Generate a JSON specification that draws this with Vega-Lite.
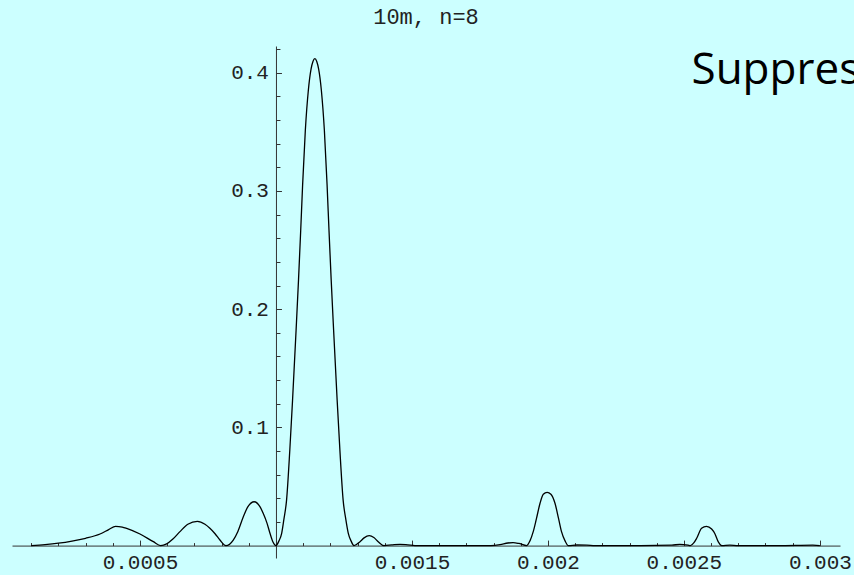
{
  "$schema": "https://vega.github.io/schema/vega-lite/v6.json",
  "width": 828,
  "height": 512,
  "autosize": "none",
  "padding": {"left": 12, "top": 46, "right": 14, "bottom": 17},
  "background": "#CCFFFF",
  "config": {"view": {"stroke": null}},
  "title": {"text": "10m, n=8", "font": "Liberation Mono", "fontSize": 22, "fontWeight": "normal", "color": "#222", "anchor": "middle", "frame": "group", "baseline": "alphabetic", "offset": 19, "dy": 27},
  "datasets": {
    "curve": [
      {"x": 0.0001, "y": 0},
      {"x": 0.000151, "y": 0.0008},
      {"x": 0.0002, "y": 0.002},
      {"x": 0.00025, "y": 0.0038},
      {"x": 0.0003, "y": 0.0062},
      {"x": 0.000353, "y": 0.0098},
      {"x": 0.000385, "y": 0.0135},
      {"x": 0.00041, "y": 0.0163},
      {"x": 0.000435, "y": 0.0157},
      {"x": 0.000451, "y": 0.0146},
      {"x": 0.0005, "y": 0.0098},
      {"x": 0.000549, "y": 0.0033},
      {"x": 0.000576, "y": 0},
      {"x": 0.000598, "y": 0.0014},
      {"x": 0.000621, "y": 0.0055},
      {"x": 0.000647, "y": 0.0118},
      {"x": 0.000676, "y": 0.018},
      {"x": 0.000711, "y": 0.0205},
      {"x": 0.000739, "y": 0.018},
      {"x": 0.000757, "y": 0.0146},
      {"x": 0.000776, "y": 0.01},
      {"x": 0.000794, "y": 0.0047},
      {"x": 0.000816, "y": 0},
      {"x": 0.000843, "y": 0.0047},
      {"x": 0.00086, "y": 0.012},
      {"x": 0.00088, "y": 0.0244},
      {"x": 0.000897, "y": 0.033},
      {"x": 0.00092, "y": 0.0371},
      {"x": 0.000941, "y": 0.033},
      {"x": 0.000953, "y": 0.0273},
      {"x": 0.000967, "y": 0.019},
      {"x": 0.000978, "y": 0.0104},
      {"x": 0.000989, "y": 0.003},
      {"x": 0.001, "y": 0},
      {"x": 0.001011, "y": 0.004},
      {"x": 0.001021, "y": 0.0104},
      {"x": 0.001029, "y": 0.022},
      {"x": 0.001039, "y": 0.0385},
      {"x": 0.001051, "y": 0.081},
      {"x": 0.001061, "y": 0.123},
      {"x": 0.001074, "y": 0.1822},
      {"x": 0.001083, "y": 0.225},
      {"x": 0.001091, "y": 0.2667},
      {"x": 0.001098, "y": 0.305},
      {"x": 0.001108, "y": 0.3513},
      {"x": 0.001119, "y": 0.385},
      {"x": 0.001129, "y": 0.403},
      {"x": 0.001136, "y": 0.4095},
      {"x": 0.001143, "y": 0.4119},
      {"x": 0.00115, "y": 0.4095},
      {"x": 0.001157, "y": 0.403},
      {"x": 0.001167, "y": 0.385},
      {"x": 0.001178, "y": 0.3513},
      {"x": 0.001188, "y": 0.305},
      {"x": 0.001195, "y": 0.2667},
      {"x": 0.001203, "y": 0.225},
      {"x": 0.001212, "y": 0.1822},
      {"x": 0.001225, "y": 0.123},
      {"x": 0.001235, "y": 0.081},
      {"x": 0.001247, "y": 0.0385},
      {"x": 0.001257, "y": 0.022},
      {"x": 0.001266, "y": 0.0104},
      {"x": 0.001276, "y": 0.004},
      {"x": 0.001287, "y": 0},
      {"x": 0.001309, "y": 0.0033},
      {"x": 0.001324, "y": 0.0065},
      {"x": 0.001343, "y": 0.0084},
      {"x": 0.00136, "y": 0.0068},
      {"x": 0.001376, "y": 0.0033},
      {"x": 0.001397, "y": 0},
      {"x": 0.001426, "y": 0.0006},
      {"x": 0.001456, "y": 0.0011},
      {"x": 0.001485, "y": 0.0006},
      {"x": 0.001511, "y": 0},
      {"x": 0.00164, "y": 0},
      {"x": 0.00179, "y": 0},
      {"x": 0.001824, "y": 0.0008},
      {"x": 0.001853, "y": 0.0022},
      {"x": 0.001872, "y": 0.0025},
      {"x": 0.001893, "y": 0.0018},
      {"x": 0.001922, "y": 0},
      {"x": 0.001934, "y": 0.004},
      {"x": 0.001946, "y": 0.0118},
      {"x": 0.001958, "y": 0.023},
      {"x": 0.001971, "y": 0.0358},
      {"x": 0.001983, "y": 0.0435},
      {"x": 0.001997, "y": 0.045},
      {"x": 0.002011, "y": 0.0435},
      {"x": 0.002026, "y": 0.0358},
      {"x": 0.002039, "y": 0.023},
      {"x": 0.00205, "y": 0.0118},
      {"x": 0.002063, "y": 0.004},
      {"x": 0.002075, "y": 0},
      {"x": 0.002107, "y": 0.0005},
      {"x": 0.002143, "y": 0.0004},
      {"x": 0.002173, "y": 0},
      {"x": 0.00234, "y": 0},
      {"x": 0.002456, "y": 0.0004},
      {"x": 0.002485, "y": 0.001},
      {"x": 0.002515, "y": 0.0004},
      {"x": 0.002524, "y": 0},
      {"x": 0.002537, "y": 0.0025},
      {"x": 0.002547, "y": 0.0062},
      {"x": 0.002565, "y": 0.0146},
      {"x": 0.002583, "y": 0.0163},
      {"x": 0.002602, "y": 0.014},
      {"x": 0.002614, "y": 0.01},
      {"x": 0.002626, "y": 0.0033},
      {"x": 0.002639, "y": 0},
      {"x": 0.002669, "y": 0.0004},
      {"x": 0.002699, "y": 0},
      {"x": 0.002846, "y": 0},
      {"x": 0.002974, "y": 0.0004},
      {"x": 0.003, "y": 0}
    ],
    "note": [
      {"x": 0.002528, "y": 0.3908, "label": "Suppression"}
    ]
  },
  "encoding": {
    "x": {
      "field": "x",
      "type": "quantitative",
      "scale": {"domain": [0.0000294, 0.003074], "nice": false, "zero": false},
      "axis": {
        "values": [0.0001, 0.0002, 0.0003, 0.0004, 0.0005, 0.0006, 0.0007, 0.0008, 0.0009, 0.001, 0.0011, 0.0012, 0.0013, 0.0014, 0.0015, 0.0016, 0.0017, 0.0018, 0.0019, 0.002, 0.0021, 0.0022, 0.0023, 0.0024, 0.0025, 0.0026, 0.0027, 0.0028, 0.0029, 0.003],
        "orient": "bottom",
        "offset": {"expr": "scale('y', 0) - height"},
        "title": null,
        "grid": false,
        "domainColor": "#333",
        "domainWidth": 1,
        "tickColor": "#333",
        "tickWidth": 1,
        "tickSize": {"condition": {"test": "abs(datum.value*2000 - round(datum.value*2000)) < 0.001", "value": -5.5}, "value": -3},
        "labelExpr": "abs(datum.value*2000 - round(datum.value*2000)) < 0.001 && abs(datum.value - 0.001) > 0.00001 ? format(datum.value, '~g') : ''",
        "labelFont": "Liberation Mono",
        "labelFontSize": 21,
        "labelColor": "#222",
        "labelPadding": 11,
        "labelOverlap": false,
        "labelFlush": false
      }
    },
    "y": {
      "field": "y",
      "type": "quantitative",
      "scale": {"domain": [-0.0105, 0.4226], "nice": false, "zero": false},
      "axis": {
        "values": [0.02, 0.04, 0.06, 0.08, 0.1, 0.12, 0.14, 0.16, 0.18, 0.2, 0.22, 0.24, 0.26, 0.28, 0.3, 0.32, 0.34, 0.36, 0.38, 0.4, 0.42],
        "orient": "left",
        "offset": {"expr": "-scale('x', 0.001)"},
        "title": null,
        "grid": false,
        "domainColor": "#333",
        "domainWidth": 1,
        "tickColor": "#333",
        "tickWidth": 1,
        "tickSize": {"condition": {"test": "abs(datum.value*10 - round(datum.value*10)) < 0.001", "value": -5.5}, "value": -4},
        "labelExpr": "abs(datum.value*10 - round(datum.value*10)) < 0.001 ? format(datum.value, '~g') : ''",
        "labelFont": "Liberation Mono",
        "labelFontSize": 21,
        "labelColor": "#222",
        "labelPadding": 13,
        "labelOverlap": false,
        "labelFlush": false
      }
    }
  },
  "layer": [
    {
      "data": {"name": "curve"},
      "mark": {"type": "line", "interpolate": "monotone", "color": "black", "strokeWidth": 1.3}
    },
    {
      "data": {"name": "note"},
      "mark": {"type": "text", "align": "left", "baseline": "alphabetic", "font": "Open Sans", "fontSize": 44, "color": "black"},
      "encoding": {"text": {"field": "label"}}
    }
  ]
}
